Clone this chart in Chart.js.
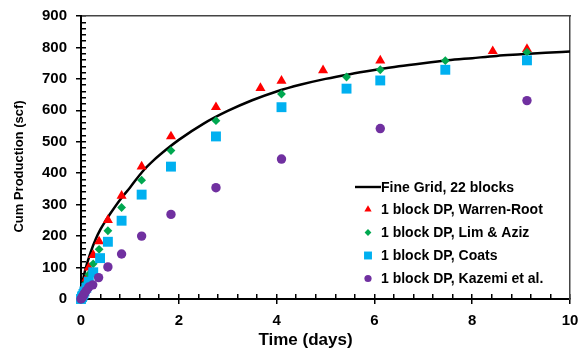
<!DOCTYPE html>
<html>
<head>
<meta charset="utf-8">
<script src="https://cdn.jsdelivr.net/npm/chart.js@4.4.0/dist/chart.umd.min.js"></script>
<style>
  html, body { margin: 0; padding: 0; background: #fff; }
</style>
</head>
<body>
<canvas id="chart" width="582" height="351"></canvas>
<script>
(function() {
    'use strict';

    // Fine grid reference solution
    const fineDays = [0, 0.02, 0.05, 0.1, 0.15, 0.2, 0.3, 0.4, 0.5, 0.6, 0.8, 1.0, 1.25, 1.5, 1.75, 2.0, 2.5, 3.0, 3.5, 4.0, 4.5, 5.0, 5.5, 6.0, 6.5, 7.0, 7.5, 8.0, 8.5, 9.0, 9.5, 10.0];
    const fineScf = [0, 40, 68, 100, 126, 150, 190, 222, 248, 272, 316, 354, 404, 443, 476, 506, 557, 598, 632, 660, 682, 700, 715, 728, 740, 750, 759, 766, 773, 778, 783, 787];

    // 1 block dual porosity runs
    const warrenDays = [0, 0.02, 0.03, 0.05, 0.07, 0.11, 0.16, 0.25, 0.37, 0.55, 0.83, 1.24, 1.84, 2.76, 3.67, 4.1, 4.95, 6.12, 8.42, 9.12];
    const warrenScf = [0, 12, 20, 30, 42, 65, 100, 140, 183, 251, 328, 421, 517, 610, 671, 694, 727, 758, 788, 795];

    const limDays = [0, 0.02, 0.03, 0.05, 0.07, 0.11, 0.16, 0.25, 0.37, 0.55, 0.83, 1.24, 1.84, 2.76, 4.1, 5.43, 6.12, 7.45, 9.12];
    const limScf = [0, 9, 15, 23, 33, 52, 78, 112, 158, 217, 291, 378, 472, 567, 652, 706, 729, 758, 785];

    const coatsDays = [0, 0.02, 0.03, 0.05, 0.07, 0.11, 0.16, 0.25, 0.39, 0.55, 0.83, 1.24, 1.84, 2.76, 4.1, 5.43, 6.12, 7.45, 9.12];
    const coatsScf = [0, 6, 10, 16, 24, 36, 55, 85, 130, 182, 249, 332, 421, 517, 610, 669, 695, 729, 759];

    const kazemiDays = [0, 0.02, 0.03, 0.05, 0.07, 0.11, 0.16, 0.24, 0.36, 0.55, 0.83, 1.24, 1.84, 2.76, 4.1, 6.12, 9.12];
    const kazemiScf = [0, 4, 7, 12, 18, 27, 38, 45, 68, 102, 143, 200, 269, 354, 445, 542, 631];

    const seriesNames = ['Fine Grid, 22 blocks', '1 block DP, Warren-Root', '1 block DP, Lim & Aziz', '1 block DP, Coats', '1 block DP, Kazemi et al.'];
    const xTitle = 'Time (days)';
    const yTitle = 'Cum Production (scf)';

    const FONT = 'Arial, "Liberation Sans", Helvetica, sans-serif';

    function pairs(xs, ys) {
        return xs.map((x, i) => ({ x: x, y: ys[i] }));
    }

    const markers = [
        { style: 'triangle', color: '#FF0000', radius: 5.8, legendRadius: 4.2 },
        { style: 'rectRot', color: '#00A850', radius: 4.4, legendRadius: 3.4 },
        { style: 'rect', color: '#00B0F0', radius: 7, legendRadius: 5.6 },
        { style: 'circle', color: '#7030A0', radius: 4.7, legendRadius: 3.6 }
    ];

    function markerDataset(label, data, m, order) {
        return {
            label: label,
            data: data,
            showLine: false,
            pointStyle: m.style,
            pointRadius: m.radius,
            pointHoverRadius: m.radius,
            pointBackgroundColor: m.color,
            pointBorderColor: m.color,
            pointBorderWidth: 0,
            backgroundColor: m.color,
            borderColor: m.color,
            clip: false,
            order: order
        };
    }

    // Draw a legend marker by hand (same shapes as the point styles)
    function drawMarker(ctx, style, x, y, r, color) {
        ctx.save();
        ctx.fillStyle = color;
        ctx.beginPath();
        if (style === 'triangle') {
            ctx.moveTo(x, y - r);
            ctx.lineTo(x + r * 0.866, y + r * 0.5);
            ctx.lineTo(x - r * 0.866, y + r * 0.5);
        } else if (style === 'rectRot') {
            ctx.moveTo(x, y - r);
            ctx.lineTo(x + r, y);
            ctx.lineTo(x, y + r);
            ctx.lineTo(x - r, y);
        } else if (style === 'rect') {
            const s = r * Math.SQRT1_2;
            ctx.rect(x - s, y - s, 2 * s, 2 * s);
        } else {
            ctx.arc(x, y, r, 0, Math.PI * 2);
        }
        ctx.closePath();
        ctx.fill();
        ctx.restore();
    }

    function drawTitlesAndLegend(chart) {
        const ctx = chart.ctx;
        const a = chart.chartArea;
        ctx.save();
        ctx.fillStyle = '#000000';

        // axis titles
        ctx.font = 'bold 13px ' + FONT;
        ctx.textAlign = 'center';
        ctx.textBaseline = 'middle';
        ctx.translate(19, (a.top + a.bottom) / 2 + 9);
        ctx.rotate(-Math.PI / 2);
        ctx.fillText(yTitle, 0, 0);
        ctx.setTransform(1, 0, 0, 1, 0, 0);
        ctx.font = 'bold 17px ' + FONT;
        ctx.fillText(xTitle, (a.left + a.right) / 2 - 20, 340);

        // legend
        const lx = 368;
        const ly = 187;
        const step = 23;
        ctx.font = 'bold 14px ' + FONT;
        ctx.textAlign = 'left';
        ctx.textBaseline = 'middle';
        ctx.fillRect(lx - 13, ly - 1.2, 26, 2.4);
        ctx.fillText(seriesNames[0], lx + 13, ly + 1);
        markers.forEach((m, i) => {
            const y = ly + step * (i + 1) - 0.5;
            drawMarker(ctx, m.style, lx, y, m.legendRadius, m.color);
            ctx.fillStyle = '#000000';
            ctx.fillText(seriesNames[i + 1], lx + 13, y + 1);
        });
        ctx.restore();
    }

    const labelPlugin = {
        id: 'labelsAndLegend',
        afterDraw(chart) {
            drawTitlesAndLegend(chart);
        }
    };

    const tickFont = { family: FONT, size: 15, weight: 'bold' };

    // axes with labels and outward major ticks
    const mainGrid = { display: true, drawOnChartArea: false, drawTicks: true, tickLength: 5, color: '#000', lineWidth: 1.5 };
    // zero-size overlay axes: inward minor ticks
    const minorGrid = { display: true, drawOnChartArea: false, drawTicks: true, tickLength: -5, color: '#000', lineWidth: 1.5 };
    const noGrid = { display: false };

    new Chart(document.getElementById('chart'), {
        type: 'scatter',
        data: {
            datasets: [
                {
                    label: seriesNames[0],
                    data: pairs(fineDays, fineScf),
                    showLine: true,
                    borderColor: '#000',
                    borderWidth: 2.5,
                    pointRadius: 0,
                    cubicInterpolationMode: 'monotone',
                    fill: false,
                    clip: false,
                    order: 5
                },
                markerDataset(seriesNames[1], pairs(warrenDays, warrenScf), markers[0], 4),
                markerDataset(seriesNames[2], pairs(limDays, limScf), markers[1], 3),
                markerDataset(seriesNames[3], pairs(coatsDays, coatsScf), markers[2], 2),
                markerDataset(seriesNames[4], pairs(kazemiDays, kazemiScf), markers[3], 1)
            ]
        },
        options: {
            responsive: false,
            animation: false,
            layout: { autoPadding: false, padding: { top: 16, right: 12, left: 0, bottom: 0 } },
            plugins: {
                legend: { display: false },
                tooltip: { enabled: false }
            },
            scales: {
                x: {
                    type: 'linear',
                    position: 'bottom',
                    weight: 1,
                    min: 0,
                    max: 10,
                    grid: mainGrid,
                    border: { display: true, color: '#000', width: 2 },
                    ticks: {
                        stepSize: 2,
                        padding: 8,
                        color: '#000',
                        maxRotation: 0,
                        font: tickFont
                    },
                    afterFit(scale) {
                        scale.height = 52;
                        scale.paddingLeft = 0;
                        scale.paddingRight = 0;
                    }
                },
                xMinor: {
                    type: 'linear',
                    position: 'bottom',
                    weight: 0,
                    min: 0,
                    max: 10,
                    grid: minorGrid,
                    border: { display: false },
                    ticks: { stepSize: 0.4, display: false },
                    afterFit(scale) {
                        scale.height = 0;
                        scale.paddingLeft = 0;
                        scale.paddingRight = 0;
                    }
                },
                xTop: {
                    type: 'linear',
                    position: 'top',
                    min: 0,
                    max: 10,
                    grid: noGrid,
                    border: { display: true, color: '#444', width: 1.5 },
                    ticks: { display: false },
                    afterFit(scale) {
                        scale.height = 0;
                        scale.paddingLeft = 0;
                        scale.paddingRight = 0;
                    }
                },
                y: {
                    type: 'linear',
                    position: 'left',
                    weight: 1,
                    min: 0,
                    max: 900,
                    grid: mainGrid,
                    border: { display: true, color: '#000', width: 2 },
                    ticks: {
                        stepSize: 100,
                        padding: 9,
                        color: '#000',
                        font: tickFont
                    },
                    afterFit(scale) {
                        scale.width = 81;
                        scale.paddingTop = 0;
                        scale.paddingBottom = 0;
                    }
                },
                yMinor: {
                    type: 'linear',
                    position: 'left',
                    weight: 0,
                    min: 0,
                    max: 900,
                    grid: minorGrid,
                    border: { display: false },
                    ticks: { stepSize: 20, display: false },
                    afterFit(scale) {
                        scale.width = 0;
                        scale.paddingTop = 0;
                        scale.paddingBottom = 0;
                    }
                },
                yRight: {
                    type: 'linear',
                    position: 'right',
                    min: 0,
                    max: 900,
                    grid: noGrid,
                    border: { display: true, color: '#444', width: 1.5 },
                    ticks: { display: false },
                    afterFit(scale) {
                        scale.width = 0;
                        scale.paddingTop = 0;
                        scale.paddingBottom = 0;
                    }
                }
            }
        },
        plugins: [labelPlugin]
    });
})();
</script>
</body>
</html>
